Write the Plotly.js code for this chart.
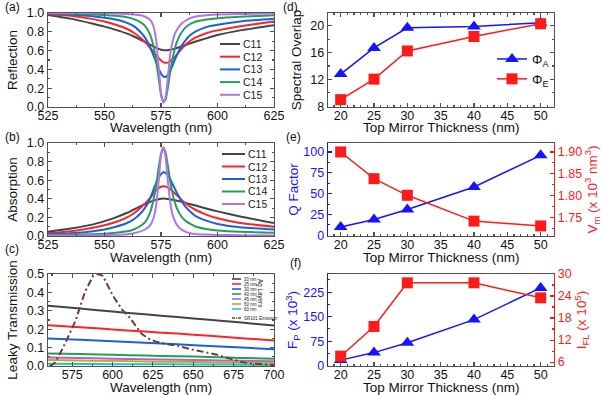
<!DOCTYPE html>
<html><head><meta charset="utf-8">
<script src="https://cdn.plot.ly/plotly-3.0.1.min.js"></script>
<style>html,body{margin:0;padding:0;background:#fff}#chart{width:602px;height:395px}</style>
</head><body><div id="chart"></div>
<script>
// ---------- DATA ----------
// (a),(b) wavelength grid (nm)
const wl = [525,535,545,550,555,560,563,566,568,570,571,572,573,574,575,576,577,578,579,580,581,582,584,586,588,590,595,600,610,625];
const refC11 = [.98,.94,.885,.855,.82,.78,.75,.715,.69,.664,.652,.64,.628,.618,.61,.605,.603,.604,.608,.613,.62,.627,.643,.66,.677,.694,.73,.765,.815,.87];
const refC12 = [.99,.97,.935,.91,.875,.83,.79,.735,.69,.635,.605,.575,.545,.518,.495,.478,.47,.472,.485,.505,.53,.558,.615,.665,.705,.735,.785,.815,.86,.91];
const refC13 = [.995,.985,.965,.95,.93,.895,.86,.795,.735,.645,.59,.53,.465,.405,.355,.325,.32,.34,.38,.435,.495,.55,.645,.715,.765,.80,.85,.875,.91,.94];
const refC14 = [1.0,.993,.985,.98,.97,.955,.935,.90,.86,.78,.71,.61,.47,.30,.13,.055,.08,.2,.36,.50,.61,.69,.79,.85,.885,.905,.93,.945,.96,.975];
const refC15 = [1.0,1.0,1.0,1.0,.996,.99,.985,.975,.96,.93,.90,.83,.68,.42,.15,.045,.1,.3,.55,.68,.77,.82,.885,.92,.945,.96,.975,.985,.99,.995];
const absC11 = [.045,.08,.125,.16,.2,.25,.285,.32,.343,.365,.375,.383,.39,.396,.40,.402,.401,.398,.394,.39,.385,.38,.368,.355,.342,.33,.296,.265,.21,.14];
const absC12 = [.03,.05,.088,.115,.15,.2,.245,.305,.35,.405,.435,.465,.493,.515,.53,.536,.533,.522,.505,.485,.462,.438,.39,.35,.315,.285,.23,.19,.14,.10];
const absC13 = [.02,.03,.052,.07,.1,.14,.18,.245,.305,.395,.455,.52,.58,.63,.665,.685,.68,.655,.615,.565,.515,.465,.38,.31,.26,.22,.165,.13,.095,.07];
const absC14 = [.01,.015,.02,.025,.035,.05,.07,.11,.15,.24,.32,.43,.57,.74,.88,.95,.9,.76,.6,.47,.37,.3,.21,.16,.13,.105,.075,.06,.045,.035];
const absC15 = [.005,.005,.008,.01,.013,.02,.03,.05,.07,.11,.15,.22,.36,.6,.87,.955,.86,.6,.38,.24,.17,.12,.07,.045,.03,.022,.015,.012,.008,.005];
const cNames = ['C11','C12','C13','C14','C15'];

// (c) leaky transmission
const wlLeak = [560,580,600,620,640,660,680,700];
const leak20 = [.328,.312,.296,.281,.266,.251,.236,.220];
const leak25 = [.222,.211,.199,.187,.176,.164,.151,.139];
const leak30 = [.150,.142,.134,.126,.118,.109,.100,.091];
const leak40 = [.068,.065,.061,.057,.053,.049,.044,.040];
const leak45 = [.046,.043,.040,.037,.034,.031,.028,.026];
const leak50 = [.033,.030,.028,.025,.023,.021,.018,.016];
const leak60 = [.012,.011,.010,.009,.009,.008,.007,.006];
const agNames = ['20 nm','25 nm','30 nm','40 nm','45 nm','50 nm','60 nm'];
const wlEm = [561,564,567,571,577,583,588,591,594,597,600,603,606,610,614,618,622,626,633,641,649,657,664,669,674,680,686,693,700];
const emSR101 = [0,.015,.06,.13,.245,.405,.49,.50,.49,.44,.385,.345,.305,.27,.22,.175,.15,.135,.12,.108,.09,.077,.063,.049,.035,.022,.013,.008,.005];
const emName = 'SR101 Emission';

// (d),(e),(f) vs top mirror thickness (nm)
const thick = [20,25,30,40,50];
const phiA = [12.8,16.7,19.7,19.9,20.45];
const phiE = [9.0,12.05,16.25,18.4,20.3];
const qFactor = [10,19,31,58,96];
const vm = [1.90,1.839,1.801,1.742,1.731];
const fp = [17,40,70,141,238];
const ifl = [7.6,15.7,27.6,27.6,23.5];

// ---------- STYLE / LAYOUT ----------
const W = 602, H = 395;
const PX = p => p / W, PY = p => 1 - p / H;
const cCols = ['#444444','#ff2424','#1a5fe0','#22a055','#b273f0'];
const agCols = ['#444444','#ff2424','#1a5fe0','#22a055','#a766e0','#d4a017','#19c9c9'];
const emCol = '#6e3b3b';
const BLUE = '#1414ff', RED = '#ff1a1a', FR = '#505050';
const FONT = 'Arial, "Liberation Sans", sans-serif';

const traces = [];
const ya = [refC11, refC12, refC13, refC14, refC15];
const yb = [absC11, absC12, absC13, absC14, absC15];
ya.forEach((v, i) => traces.push({x: wl, y: v, xaxis: 'x', yaxis: 'y', mode: 'lines', name: cNames[i], showlegend: false,
  line: {color: cCols[i], width: 2, shape: 'spline', smoothing: 0.5}}));
yb.forEach((v, i) => traces.push({x: wl, y: v, xaxis: 'x2', yaxis: 'y2', mode: 'lines', name: cNames[i], showlegend: false,
  line: {color: cCols[i], width: 2, shape: 'spline', smoothing: 0.5}}));
const leaks = [leak20, leak25, leak30, leak40, leak45, leak50, leak60];
leaks.forEach((v, i) => traces.push({x: wlLeak, y: v, xaxis: 'x3', yaxis: 'y3', mode: 'lines', name: agNames[i], showlegend: false,
  line: {color: agCols[i], width: 2, shape: 'spline'}}));
traces.push({x: wlEm, y: emSR101, xaxis: 'x3', yaxis: 'y3', mode: 'lines', name: emName, showlegend: false,
  line: {color: emCol, width: 2, dash: '7px,3px,2px,3px'}});

traces.push({x: thick, y: phiA, xaxis: 'x4', yaxis: 'y4', mode: 'lines+markers', name: 'Φ<sub>A</sub>',
  line: {color: BLUE, width: 1.5}, marker: {symbol: 'triangle-up', size: 12, color: BLUE}});
traces.push({x: thick, y: phiE, xaxis: 'x4', yaxis: 'y4', mode: 'lines+markers', name: 'Φ<sub>E</sub>',
  line: {color: RED, width: 1.5}, marker: {symbol: 'square', size: 11, color: RED}});
traces.push({x: thick, y: qFactor, xaxis: 'x5', yaxis: 'y5', mode: 'lines+markers', name: 'Q Factor', showlegend: false,
  line: {color: BLUE, width: 1.5}, marker: {symbol: 'triangle-up', size: 12, color: BLUE}});
traces.push({x: thick, y: vm, xaxis: 'x5', yaxis: 'y6', mode: 'lines+markers', name: 'Vm', showlegend: false,
  line: {color: RED, width: 1.5}, marker: {symbol: 'square', size: 11, color: RED}});
traces.push({x: thick, y: fp, xaxis: 'x6', yaxis: 'y7', mode: 'lines+markers', name: 'FP', showlegend: false,
  line: {color: BLUE, width: 1.5}, marker: {symbol: 'triangle-up', size: 12, color: BLUE}});
traces.push({x: thick, y: ifl, xaxis: 'x6', yaxis: 'y8', mode: 'lines+markers', name: 'IFL', showlegend: false,
  line: {color: RED, width: 1.5}, marker: {symbol: 'square', size: 11, color: RED}});

const tickF = {family: FONT, size: 12.5, color: '#111'};
const titF = {family: FONT, size: 13.5, color: '#111'};
function ax(opts) {
  return Object.assign({showgrid: false, zeroline: false, showline: true, linecolor: FR, linewidth: 1.3, mirror: 'ticks',
    ticks: 'inside', ticklen: 4, tickwidth: 1.1, tickcolor: FR, tickfont: tickF, automargin: false,
    minor: {ticks: 'inside', ticklen: 2, tickcolor: FR}}, opts);
}
const xA = [PX(48), PX(274)], xR = [PX(328), PX(554)];
const yTop = [PY(107), PY(13)], yMid = [PY(236), PY(143)], yBot = [PY(366), PY(274)];
const TLS = -3;
const xWl = () => ax({domain: xA, range: [525, 625], dtick: 25, tick0: 525, ticklabelstandoff: TLS,
  minor: {ticks: 'inside', ticklen: 2, tickcolor: FR, dtick: 12.5}});
const xTh = () => ax({domain: xR, range: [18.1, 52], dtick: 5, tick0: 20, ticklabelstandoff: TLS});

const layout = {
  width: W, height: H, margin: {l: 0, r: 0, t: 0, b: 0}, paper_bgcolor: '#fff', plot_bgcolor: '#fff',
  font: {family: FONT, color: '#111'},
  showlegend: true,
  legend: {x: PX(492), y: PY(44), xanchor: 'left', yanchor: 'top', bgcolor: 'rgba(0,0,0,0)',
    font: {family: FONT, size: 13, color: '#111'}, itemwidth: 30, tracegroupgap: 0},
  xaxis: xWl(),
  yaxis: ax({domain: yTop, range: [0, 1.0], dtick: 0.2, tickformat: '.1f', minor: {ticks: 'inside', ticklen: 2, tickcolor: FR, dtick: 0.1},
    title: {text: 'Reflection', font: titF, standoff: 6}}),
  xaxis2: Object.assign(xWl(), {anchor: 'y2'}),
  yaxis2: ax({domain: yMid, anchor: 'x2', range: [0, 1.0], dtick: 0.2, tickformat: '.1f', minor: {ticks: 'inside', ticklen: 2, tickcolor: FR, dtick: 0.1},
    title: {text: 'Absorption', font: titF, standoff: 6}}),
  xaxis3: ax({domain: xA, anchor: 'y3', range: [560, 700], dtick: 25, tick0: 575, ticklabelstandoff: TLS,
    minor: {ticks: 'inside', ticklen: 2, tickcolor: FR, dtick: 12.5}}),
  yaxis3: ax({domain: yBot, anchor: 'x3', range: [0, 0.5], dtick: 0.1, tickformat: '.1f', minor: {ticks: 'inside', ticklen: 2, tickcolor: FR, dtick: 0.05},
    title: {text: 'Leaky Transmission', font: titF, standoff: 6}}),
  xaxis4: Object.assign(xTh(), {anchor: 'y4'}),
  yaxis4: ax({domain: yTop, anchor: 'x4', range: [7.9, 21.9], dtick: 4, tick0: 8, minor: {ticks: 'inside', ticklen: 2, tickcolor: FR, dtick: 2},
    title: {text: 'Spectral Overlap', font: titF, standoff: 5}}),
  xaxis5: Object.assign(xTh(), {anchor: 'y5', mirror: true}),
  yaxis5: ax({domain: yMid, anchor: 'x5', range: [-0.8, 110.8], dtick: 25, mirror: false, linecolor: BLUE, tickcolor: BLUE,
    tickfont: {family: FONT, size: 12.5, color: BLUE}, minor: {ticks: 'inside', ticklen: 2, tickcolor: BLUE, dtick: 12.5},
    title: {text: 'Q Factor', font: {family: FONT, size: 13.5, color: BLUE}, standoff: 1}}),
  yaxis6: ax({domain: yMid, anchor: 'x5', overlaying: 'y5', side: 'right', range: [1.708, 1.9205], dtick: 0.05, tick0: 1.75, tickformat: '.2f',
    mirror: false, linecolor: RED, tickcolor: RED, tickfont: {family: FONT, size: 12.5, color: RED},
    minor: {ticks: 'inside', ticklen: 2, tickcolor: RED, dtick: 0.025},
    title: {text: 'V<sub>m</sub> (x 10<sup>3</sup> nm<sup>3</sup>)', font: {family: FONT, size: 13.5, color: RED}, standoff: 5}}),
  xaxis6: Object.assign(xTh(), {anchor: 'y7', mirror: true}),
  yaxis7: ax({domain: yBot, anchor: 'x6', range: [-1, 280.5], dtick: 75, mirror: false, linecolor: BLUE, tickcolor: BLUE,
    tickfont: {family: FONT, size: 12.5, color: BLUE}, minor: {ticks: 'inside', ticklen: 2, tickcolor: BLUE, dtick: 37.5},
    title: {text: 'F<sub>P</sub> (x 10<sup>3</sup>)', font: {family: FONT, size: 13.5, color: BLUE}, standoff: 2}}),
  yaxis8: ax({domain: yBot, anchor: 'x6', overlaying: 'y7', side: 'right', range: [4.93, 30], dtick: 6, tick0: 6,
    mirror: false, linecolor: RED, tickcolor: RED, tickfont: {family: FONT, size: 12.5, color: RED},
    minor: {ticks: 'inside', ticklen: 2, tickcolor: RED, dtick: 3},
    title: {text: 'I<sub>FL</sub> (x 10<sup>5</sup>)', font: {family: FONT, size: 13.5, color: RED}, standoff: 4}}),
  shapes: [], annotations: []
};

// x-axis titles (placed as annotations below tick labels)
[['Wavelength (nm)', 161, 127.5], ['Wavelength (nm)', 161, 257.5], ['Wavelength (nm)', 161, 387],
 ['Top Mirror Thickness (nm)', 441, 127.5], ['Top Mirror Thickness (nm)', 441, 257.5], ['Top Mirror Thickness (nm)', 441, 387]].forEach(t => {
  layout.annotations.push({text: t[0], xref: 'paper', yref: 'paper', x: PX(t[1]), y: PY(t[2]), xanchor: 'center', yanchor: 'middle',
    showarrow: false, borderpad: 0, font: titF});
});

// panel labels
[['(a)', 3, 7], ['(b)', 3, 137], ['(c)', 3, 249], ['(d)', 281, 7], ['(e)', 284, 137], ['(f)', 288, 263]].forEach(p => {
  layout.annotations.push({text: p[0], xref: 'paper', yref: 'paper', x: PX(p[1]), y: PY(p[2]), xanchor: 'left', yanchor: 'middle',
    showarrow: false, font: {family: FONT, size: 12, color: '#111'}});
});

// manual legends
function addLegend(names, cols, x0, x1, tx, y0, dy, fs, lw, dashes) {
  names.forEach((n, i) => {
    const y = y0 + i * dy;
    layout.shapes.push({type: 'line', xref: 'paper', yref: 'paper', x0: PX(x0), x1: PX(x1), y0: PY(y), y1: PY(y),
      line: {color: cols[i], width: lw, dash: dashes && dashes[i] ? dashes[i] : 'solid'}});
    layout.annotations.push({text: n, xref: 'paper', yref: 'paper', x: PX(tx), y: PY(y), xanchor: 'left', yanchor: 'middle',
      showarrow: false, borderpad: 0, font: {family: FONT, size: fs, color: '#222'}});
  });
}
addLegend(cNames, cCols, 220, 240, 242, 44, 12.7, 10.5, 2);
addLegend(cNames, cCols, 222, 245, 247, 154, 12.5, 10.5, 2);
addLegend(agNames, agCols, 232, 241, 243, 279, 5.0, 4.5, 1.6);
addLegend([emName], [emCol], 232, 241, 243, 318, 0, 4.5, 1.6, ['3px,1px,1px,1px']);
layout.annotations.push({text: 'Ag Layers', xref: 'paper', yref: 'paper', x: PX(260), y: PY(293), textangle: 90,
  xanchor: 'center', yanchor: 'middle', showarrow: false, borderpad: 0, font: {family: FONT, size: 6.3, color: '#222'}});

Plotly.newPlot('chart', traces, layout, {displayModeBar: false, staticPlot: true});
</script>
</body></html>
